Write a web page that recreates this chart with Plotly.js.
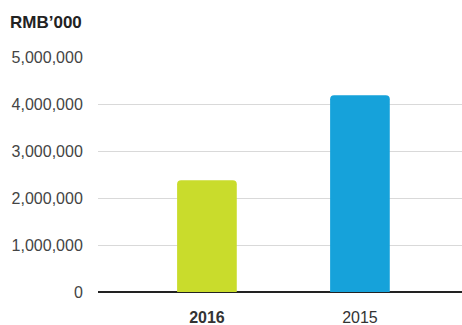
<!DOCTYPE html>
<html>
<head>
<meta charset="utf-8">
<script src="https://cdn.plot.ly/plotly-3.0.1.min.js"></script>
<style>
  html, body { margin: 0; padding: 0; background: #fff; }
  #chart { width: 462px; height: 325px; }
</style>
</head>
<body>
<div id="chart"></div>
<script>
// Annual totals, in thousands of RMB
const years = ['2016', '2015'];
const yearLabels = ['<b>2016</b>', '2015'];
const amounts = [2380000, 4185000];
const barColors = ['#c9dc2c', '#16a2da'];
const yTicks = [0, 1000000, 2000000, 3000000, 4000000, 5000000];

const font = 'Liberation Sans, Arial, Helvetica, sans-serif';

const trace = {
  type: 'bar',
  x: years,
  y: amounts,
  width: 0.39,
  marker: { color: barColors, cornerradius: 4, line: { width: 0 } },
  hoverinfo: 'skip'
};

const layout = {
  width: 462,
  height: 325,
  margin: { l: 98, r: 0, t: 57, b: 33 },
  paper_bgcolor: '#ffffff',
  plot_bgcolor: '#ffffff',
  showlegend: false,
  title: {
    text: '<b>RMB’000</b>',
    font: { family: font, size: 17, color: '#222222' },
    xref: 'container', yref: 'container',
    x: 10 / 462, xanchor: 'left',
    y: 1 - 22 / 325, yanchor: 'middle'
  },
  xaxis: {
    type: 'category',
    tickmode: 'array',
    tickvals: years,
    ticktext: yearLabels,
    range: [-0.712, 1.667],
    showgrid: false,
    zeroline: false,
    showline: false,
    ticks: 'outside',
    ticklen: 11,
    tickcolor: 'rgba(0,0,0,0)',
    tickfont: { family: font, size: 16, color: '#333333' },
    fixedrange: true
  },
  yaxis: {
    range: [0, 5000000],
    tickmode: 'array',
    tickvals: yTicks,
    ticktext: yTicks.map(v => v.toLocaleString('en-US')),
    showgrid: true,
    gridcolor: '#d9d9d9',
    gridwidth: 1,
    zeroline: true,
    zerolinecolor: '#222222',
    zerolinewidth: 2,
    showline: false,
    ticks: 'outside',
    ticklen: 11,
    tickcolor: 'rgba(0,0,0,0)',
    tickfont: { family: font, size: 16, color: '#444444' },
    fixedrange: true
  }
};

Plotly.newPlot('chart', [trace], layout, { displayModeBar: false, staticPlot: true });
</script>
</body>
</html>
